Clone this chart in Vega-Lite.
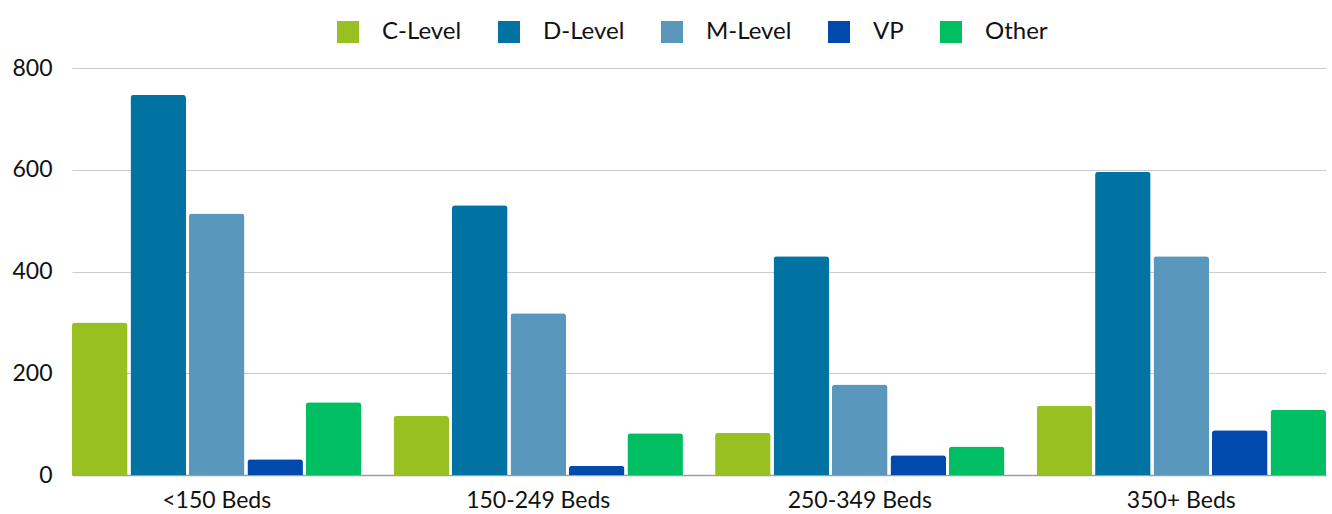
{
  "$schema": "https://vega.github.io/schema/vega-lite/v6.json",
  "width": 1254,
  "height": 407,
  "autosize": "none",
  "padding": {"left": 72, "top": 68, "right": 6, "bottom": 39},
  "background": "white",
  "config": {
    "font": "Lato",
    "view": {"stroke": null}
  },
  "data": {
    "values": [
      {"beds": "<150 Beds", "level": "C-Level", "count": 300},
      {"beds": "<150 Beds", "level": "D-Level", "count": 747},
      {"beds": "<150 Beds", "level": "M-Level", "count": 514},
      {"beds": "<150 Beds", "level": "VP", "count": 31},
      {"beds": "<150 Beds", "level": "Other", "count": 143},
      {"beds": "150-249 Beds", "level": "C-Level", "count": 116},
      {"beds": "150-249 Beds", "level": "D-Level", "count": 530},
      {"beds": "150-249 Beds", "level": "M-Level", "count": 318},
      {"beds": "150-249 Beds", "level": "VP", "count": 18},
      {"beds": "150-249 Beds", "level": "Other", "count": 82},
      {"beds": "250-349 Beds", "level": "C-Level", "count": 83},
      {"beds": "250-349 Beds", "level": "D-Level", "count": 430},
      {"beds": "250-349 Beds", "level": "M-Level", "count": 178},
      {"beds": "250-349 Beds", "level": "VP", "count": 39},
      {"beds": "250-349 Beds", "level": "Other", "count": 56},
      {"beds": "350+ Beds", "level": "C-Level", "count": 136},
      {"beds": "350+ Beds", "level": "D-Level", "count": 596},
      {"beds": "350+ Beds", "level": "M-Level", "count": 430},
      {"beds": "350+ Beds", "level": "VP", "count": 88},
      {"beds": "350+ Beds", "level": "Other", "count": 128}
    ]
  },
  "mark": {"type": "bar", "cornerRadiusTopLeft": 3, "cornerRadiusTopRight": 3},
  "encoding": {
    "x": {
      "field": "beds",
      "type": "nominal",
      "sort": ["<150 Beds", "150-249 Beds", "250-349 Beds", "350+ Beds"],
      "scale": {"paddingInner": 0.1, "paddingOuter": 0},
      "axis": {
        "title": null,
        "labelAngle": 0,
        "labelFontSize": 23,
        "labelColor": "#111",
        "labelPadding": 14,
        "ticks": false,
        "domainColor": "#9e9e9e",
        "domainWidth": 1.5
      }
    },
    "xOffset": {
      "field": "level",
      "type": "nominal",
      "sort": ["C-Level", "D-Level", "M-Level", "VP", "Other"],
      "scale": {"paddingInner": 0.05, "paddingOuter": 0}
    },
    "y": {
      "field": "count",
      "type": "quantitative",
      "scale": {"domain": [0, 800]},
      "axis": {
        "title": null,
        "values": [0, 200, 400, 600, 800],
        "labelFontSize": 23,
        "labelColor": "#111",
        "labelPadding": 20,
        "ticks": false,
        "domain": false,
        "gridColor": "#cccccc",
        "gridWidth": 1
      }
    },
    "color": {
      "field": "level",
      "type": "nominal",
      "sort": ["C-Level", "D-Level", "M-Level", "VP", "Other"],
      "scale": {
        "domain": ["C-Level", "D-Level", "M-Level", "VP", "Other"],
        "range": ["#98C021", "#0173A2", "#5A97BD", "#004AAD", "#00BF63"]
      },
      "legend": {
        "title": null,
        "orient": "none",
        "legendX": 264,
        "legendY": -48,
        "direction": "horizontal",
        "symbolType": "square",
        "symbolSize": 484,
        "symbolStrokeWidth": 0,
        "labelFontSize": 24,
        "labelColor": "#111",
        "labelOffset": 22,
        "columnPadding": 35
      }
    }
  }
}
